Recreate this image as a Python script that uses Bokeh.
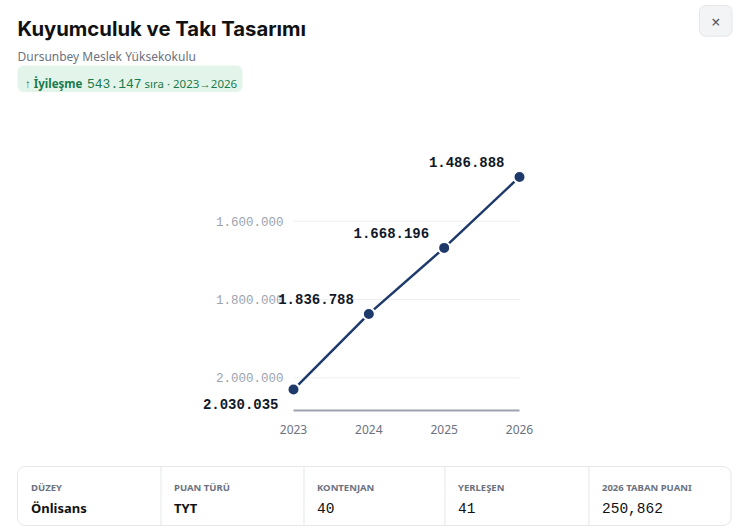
from bokeh.plotting import figure
from bokeh.models import Range1d, ColumnDataSource, LabelSet, Label, BoxAnnotation
from bokeh.core.properties import value
from bokeh.embed import file_html
from bokeh.resources import INLINE

# ---------------- data ----------------
years = [2023, 2024, 2025, 2026]
ranks = [2030035, 1836788, 1668196, 1486888]
y_ticks = [1600000, 1800000, 2000000]
y_domain = [2083500, 1365750]  # bottom, top of the plotting band (inverted rank axis)
title_text = "Kuyumculuk ve Takı Tasarımı"
subtitle_text = "Dursunbey Meslek Yüksekokulu"
badge_prefix = "↑ İyileşme"
badge_unit = "sıra"
card_labels = ["DÜZEY", "PUAN TÜRÜ", "KONTENJAN", "YERLEŞEN", "2026 TABAN PUANI"]
card_values = ["Önlisans", "TYT", "40", "41", "250,862"]

# ---------------- layout (canvas px) ----------------
W, H = 742, 532
PL, PR, PT, PB = 293, 519, 129, 410
NAVY = "#1e3a6b"
GREEN = "#1a7a4c"
MONO = "Liberation Mono"
SANS = "Noto Sans"


def dots(v):
    return f"{int(v):,}".replace(",", ".")


x_scale = (PR - PL) / (max(years) - min(years))
x_start = min(years) - PL / x_scale
x_end = x_start + W / x_scale
y_scale = (PB - PT) / (y_domain[0] - y_domain[1])
y_low = y_domain[0] + (H - PB) / y_scale
y_high = y_domain[1] - PT / y_scale

p = figure(width=W, height=H, output_backend="svg", toolbar_location=None, tools="",
           x_range=Range1d(x_start, x_end), y_range=Range1d(y_low, y_high),
           x_axis_location=None, y_axis_location=None, title=None, min_border=0)
p.extra_x_ranges = {"px": Range1d(0, W)}
p.extra_y_ranges = {"px": Range1d(H, 0)}
p.xgrid.visible = False
p.ygrid.visible = False
p.outline_line_color = None
p.background_fill_color = "white"
p.border_fill_color = "white"

# grid lines and baseline
n = len(y_ticks)
p.segment(x0=[min(years)] * n, x1=[max(years)] * n, y0=y_ticks, y1=y_ticks,
          line_color="#eceef1", line_width=1)
p.segment(x0=[min(years)], x1=[max(years)], y0=[y_domain[0]], y1=[y_domain[0]],
          line_color="#9ca3af", line_width=2)

# y tick labels
ytick_src = ColumnDataSource(dict(x=[min(years)] * n, y=y_ticks, text=[dots(t) for t in y_ticks]))
p.add_layout(LabelSet(source=ytick_src, x="x", y="y", text="text", x_offset=-10,
                      text_align="right", text_baseline="middle",
                      text_font=value(MONO), text_font_size="12.5px", text_color="#9ca3af"))
# x tick labels
xtick_src = ColumnDataSource(dict(x=years, y=[y_domain[0]] * len(years), text=[str(y) for y in years]))
p.add_layout(LabelSet(source=xtick_src, x="x", y="y", text="text", y_offset=-19,
                      text_align="center", text_baseline="middle",
                      text_font=value(SANS), text_font_size="12px", text_color="#6b7280"))

# series
src = ColumnDataSource(dict(x=years, y=ranks, text=[dots(r) for r in ranks],
                            dy=[-14 if i == 0 else 15 for i in range(len(ranks))]))
p.line("x", "y", source=src, line_color=NAVY, line_width=2.5)
p.scatter("x", "y", source=src, size=12, fill_color=NAVY, line_color="white", line_width=2)
p.add_layout(LabelSet(source=src, x="x", y="y", text="text", x_offset=-15, y_offset="dy",
                      text_align="right", text_baseline="middle",
                      text_font=value(MONO), text_font_size="14px", text_font_style="bold",
                      text_color="#111827"))


def lab(x, y, text, size, color, font=SANS, style="normal", align="left", baseline="alphabetic"):
    p.add_layout(Label(x=x, y=y, text=text, x_range_name="px", y_range_name="px",
                       text_font=font, text_font_size=size, text_color=color,
                       text_font_style=style, text_align=align, text_baseline=baseline))


def box(l, r, t, b, fill, line=None, radius=0):
    p.add_layout(BoxAnnotation(left=l, right=r, top=t, bottom=b, x_range_name="px", y_range_name="px",
                               fill_color=fill, fill_alpha=1, line_color=line, line_alpha=1 if line else 0,
                               line_width=1, border_radius=radius, level="underlay"))


# header
lab(17, 28, title_text, "20.3px", "#111111", font="Inter", style="bold")
lab(17, 55.7, subtitle_text, "12px", "#6b7280")
box(17, 242, 65, 91.5, "#e3f5eb", radius=6)
improvement = ranks[0] - ranks[-1]
lab(24.5, 82.5, badge_prefix, "11.5px", GREEN, style="bold")
lab(86.5, 82.5, dots(improvement), "13px", GREEN, font=MONO)
lab(144, 82.5, f"{badge_unit} · {years[0]}→{years[-1]}", "11.5px", GREEN)

# close button
box(699, 731.5, 5, 35.7, "#f3f4f6", line="#e5e7eb", radius=6)
lab(715.25, 21.5, "×", "16px", "#4b5563", align="center", baseline="middle")

# info cards
card_lefts = [17, 160, 303, 444, 588]
box(17, 730.5, 466, 525, "white", line="#e5e7eb", radius=8)
for cl in card_lefts[1:]:
    box(cl, cl + 1, 466.5, 524.5, "#e5e7eb")
for cl, lb, vl in zip(card_lefts, card_labels, card_values):
    lab(cl + 13.5, 486.7, lb, "9.5px", "#6b7280", style="bold")
    if vl[0].isdigit():
        lab(cl + 13.5, 507.3, vl, "14.5px", "#111111", font=MONO)
    else:
        lab(cl + 13.5, 507.3, vl, "13px", "#111111", style="bold")

open("out.html", "w").write(file_html(p, INLINE))
